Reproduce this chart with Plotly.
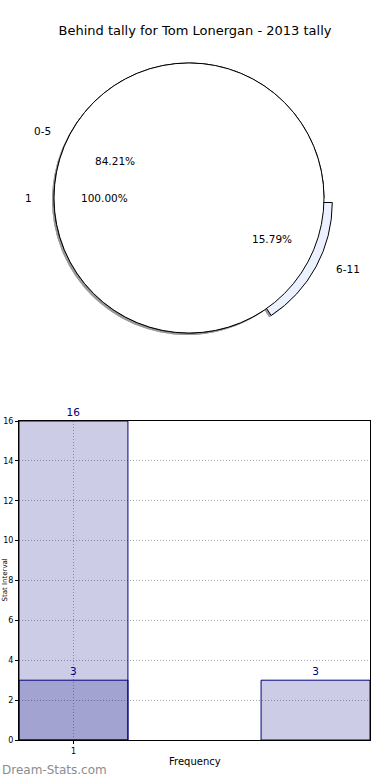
import math
import plotly.graph_objects as go

# ---------------- data ----------------
title_text = "Behind tally for Tom Lonergan - 2013 tally"
outer_labels = ["0-5", "6-11"]
outer_values = [16, 3]
outer_pull = [0, 0.07]
outer_colors = ["#ffffff", "#ebf1ff"]
inner_labels = ["1"]
inner_values = [19]
inner_colors = ["#ffffff"]

bar_x = [1, 3]
bar_values = [16, 3]
overlay_x = [1]
overlay_values = [3]
y_ticks = list(range(0, 17, 2))
x_ticks = [1]
x_title = "Frequency"
y_title = "Stat Interval"
watermark = "Dream-Stats.com"

# ---------------- layout geometry ----------------
W, H = 390, 780
cx, cy = 189, 198          # pie centre (px)
R = 135                     # pie radius (px)
RX, RY = 141, 128           # label ellipse (px)
FONT = "DejaVu Sans"


def dom(r, dx=0, dy=0):
    return dict(x=[(cx + dx - r) / W, (cx + dx + r) / W],
                y=[1 - (cy + dy + r) / H, 1 - (cy + dy - r) / H])


fig = go.Figure()

maxpull = max(outer_pull)
outer_total = sum(outer_values)
# plotly "counterclockwise": first slice lies clockwise of `rotation`, the rest ccw.
# Put the start of the first slice at 3 o'clock going counter-clockwise (matplotlib style).
outer_rot = 90 + 360 * (outer_total - outer_values[0]) / outer_total
common = dict(sort=False, direction="counterclockwise",
              textinfo="none", hoverinfo="skip", showlegend=False)

# shadows
fig.add_trace(go.Pie(labels=outer_labels, values=outer_values, pull=outer_pull,
                     rotation=outer_rot,
                     marker=dict(colors=["#9a9a9a"] * 2, line=dict(width=0)),
                     domain=dom(R * (1 + maxpull), -2, 2), **common))
fig.add_trace(go.Pie(labels=inner_labels, values=inner_values, rotation=90,
                     marker=dict(colors=["#9a9a9a"], line=dict(width=0)),
                     domain=dom(R, -2, 2), **common))
# outer pie (0-5 / 6-11)
fig.add_trace(go.Pie(labels=outer_labels, values=outer_values, pull=outer_pull,
                     rotation=outer_rot,
                     marker=dict(colors=outer_colors, line=dict(color="black", width=1)),
                     domain=dom(R * (1 + maxpull)), **common))
# inner pie (1)
fig.add_trace(go.Pie(labels=inner_labels, values=inner_values, rotation=90,
                     marker=dict(colors=inner_colors, line=dict(color="black", width=1)),
                     domain=dom(R), **common))

annotations = []


def pie_labels(labels, values, pulls):
    total = sum(values)
    cum = 0
    for lab, v, p in zip(labels, values, pulls):
        a = math.radians(360 * (cum + v / 2) / total)
        cum += v
        ca, sa = math.cos(a), math.sin(a)
        lx = cx + ca * (1.1 + p) * RX
        ly = cy - sa * (1.1 + p) * RY
        annotations.append(dict(x=lx / W, y=1 - ly / H, xref="paper", yref="paper",
                                text=lab, showarrow=False,
                                xanchor="right" if ca < -1e-9 else ("left" if ca > 1e-9 else "center"),
                                yanchor="middle", font=dict(size=10.5, color="black", family=FONT)))
        px = cx + ca * (0.6 + p) * RX
        py = cy - sa * (0.6 + p) * RY
        annotations.append(dict(x=px / W, y=1 - py / H, xref="paper", yref="paper",
                                text="%.2f%%" % (100 * v / total), showarrow=False,
                                xanchor="center", yanchor="middle",
                                font=dict(size=10.5, color="black", family=FONT)))


pie_labels(outer_labels, outer_values, outer_pull)
pie_labels(inner_labels, inner_values, [0])

# ---------------- bar chart ----------------
bar_fill = "rgba(0,0,128,0.2)"
fig.add_trace(go.Bar(x=bar_x, y=bar_values, width=0.9,
                     marker=dict(color=bar_fill, line=dict(color="#000080", width=1)),
                     text=[str(v) for v in bar_values], textposition="outside",
                     textfont=dict(color="#000080", size=10.5, family=FONT),
                     cliponaxis=False, hoverinfo="skip", showlegend=False))
fig.add_trace(go.Bar(x=overlay_x, y=overlay_values, width=0.9,
                     marker=dict(color=bar_fill, line=dict(color="#000080", width=1)),
                     text=[str(v) for v in overlay_values], textposition="outside",
                     textfont=dict(color="#000080", size=10.5, family=FONT),
                     cliponaxis=False, hoverinfo="skip", showlegend=False))

x0, x1, yt, yb = 19, 370, 421, 740
axis_common = dict(showline=True, linecolor="black", linewidth=1, mirror=True,
                   ticks="outside", ticklen=3, tickcolor="black",
                   tickfont=dict(size=8, color="black", family=FONT),
                   showgrid=True, gridcolor="rgba(150,150,150,0.8)", griddash="1px,2px",
                   gridwidth=1, zeroline=False, automargin=False)

fig.update_layout(
    width=W, height=H, margin=dict(l=0, r=0, t=0, b=0, autoexpand=False),
    paper_bgcolor="white", plot_bgcolor="white",
    barmode="overlay",
    font=dict(family=FONT, color="black"),
    title=dict(text=title_text, x=0.5, xanchor="center", y=1 - 30 / H, yanchor="middle",
               font=dict(size=13, color="black", family=FONT)),
    xaxis=dict(domain=[x0 / W, x1 / W], range=[0.55, 3.45], tickvals=x_ticks,
               ticktext=[str(t) for t in x_ticks], **axis_common),
    yaxis=dict(domain=[1 - yb / H, 1 - yt / H], range=[0, 16], tickvals=y_ticks,
               **axis_common),
)

annotations.append(dict(x=(x0 + x1) / 2 / W, y=1 - 761 / H, xref="paper", yref="paper",
                        text=x_title, showarrow=False, xanchor="center", yanchor="middle",
                        font=dict(size=10, color="black", family=FONT)))
annotations.append(dict(x=4.5 / W, y=1 - 580 / H, xref="paper", yref="paper",
                        text=y_title, showarrow=False, textangle=-90,
                        xanchor="center", yanchor="middle",
                        font=dict(size=7, color="black", family=FONT)))
annotations.append(dict(x=0, y=1 - 770 / H, xref="paper", yref="paper",
                        text=watermark, showarrow=False,
                        xanchor="left", yanchor="middle",
                        font=dict(size=12, color="#8c8c8c", family=FONT)))
fig.update_layout(annotations=annotations)

fig.write_html("out.html", config={"displayModeBar": False, "staticPlot": True},
               post_script="document.body.style.margin='0';document.body.style.overflow='hidden';")
